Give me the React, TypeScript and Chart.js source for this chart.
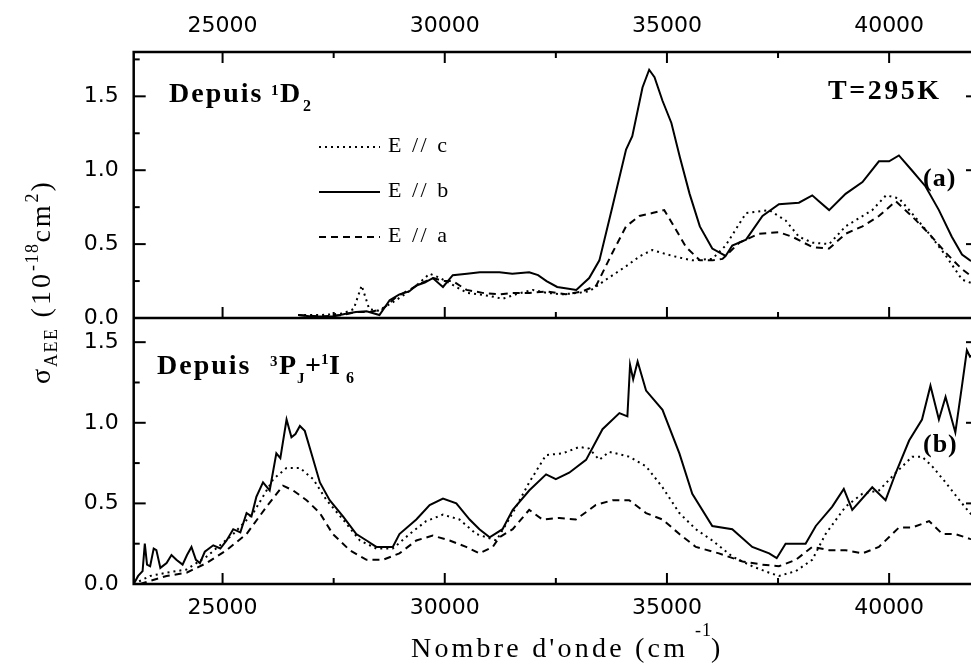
import React, { useEffect, useRef } from 'react';
import { Chart, registerables } from 'chart.js';
Chart.register(...registerables);

// ---- axes ----
const X_MIN = 23000;
const X_MAX = 42000;
const X_TICKS = [25000, 27500, 30000, 32500, 35000, 37500, 40000];
const Y_TOP_MAX = 1.8;
const Y_BOT_MAX = 1.65;
const Y_TOP_TICKS = [0, 0.25, 0.5, 0.75, 1.0, 1.25, 1.5, 1.75];
const Y_BOT_TICKS = [0, 0.25, 0.5, 0.75, 1.0, 1.25, 1.5];

// ---- top panel (Depuis 1D2) ----
const TOP_B_X = [26700, 27000, 27480, 27800, 28000, 28240, 28530, 28760, 28980, 29200, 29360, 29550, 29730, 29960, 30180, 30500, 30790, 31230, 31520, 31900, 32100, 32290, 32530, 32750, 32960, 33250, 33480, 33770, 34080, 34220, 34450, 34600, 34720, 34900, 35100, 35290, 35510, 35740, 36020, 36320, 36470, 36780, 37150, 37520, 37970, 38270, 38420, 38650, 39020, 39400, 39770, 40000, 40220, 40510, 40820, 41120, 41410, 41640, 41820, 42000];
const TOP_B_Y = [0.02, 0.01, 0.01, 0.03, 0.04, 0.045, 0.02, 0.12, 0.16, 0.18, 0.22, 0.24, 0.27, 0.21, 0.29, 0.30, 0.31, 0.31, 0.30, 0.31, 0.29, 0.25, 0.21, 0.2, 0.19, 0.27, 0.39, 0.75, 1.14, 1.23, 1.56, 1.68, 1.63, 1.47, 1.32, 1.09, 0.84, 0.62, 0.47, 0.42, 0.49, 0.53, 0.69, 0.77, 0.78, 0.83, 0.79, 0.73, 0.84, 0.92, 1.06, 1.06, 1.10, 1.00, 0.89, 0.73, 0.55, 0.43, 0.39, 0.37];

const TOP_A_X = [26700, 27200, 27700, 28000, 28300, 28600, 28900, 29200, 29500, 29750, 29960, 30180, 30490, 30850, 31230, 31520, 31900, 32290, 32720, 33100, 33410, 33770, 34080, 34380, 34670, 34940, 35120, 35430, 35740, 36020, 36250, 36630, 37070, 37520, 37820, 38270, 38650, 39020, 39400, 39770, 40150, 40510, 40900, 41280, 41640, 41820, 42000];
const TOP_A_Y = [0.02, 0.01, 0.02, 0.04, 0.04, 0.06, 0.14, 0.19, 0.24, 0.27, 0.25, 0.25, 0.19, 0.17, 0.16, 0.17, 0.17, 0.18, 0.16, 0.18, 0.22, 0.44, 0.62, 0.69, 0.71, 0.73, 0.64, 0.48, 0.39, 0.39, 0.40, 0.51, 0.57, 0.58, 0.55, 0.48, 0.47, 0.57, 0.62, 0.69, 0.79, 0.69, 0.57, 0.44, 0.33, 0.29, 0.25];

const TOP_C_X = [26700, 27200, 27700, 27950, 28130, 28300, 28500, 28800, 29100, 29400, 29660, 29900, 30200, 30500, 31000, 31300, 31600, 31980, 32300, 32650, 33000, 33250, 33630, 34080, 34400, 34670, 35120, 35570, 36020, 36320, 36780, 37300, 37670, 37970, 38270, 38650, 39020, 39620, 39930, 40220, 40510, 40900, 41280, 41640, 41820, 42000];
const TOP_C_Y = [0.02, 0.02, 0.03, 0.06, 0.22, 0.06, 0.05, 0.10, 0.16, 0.23, 0.30, 0.27, 0.22, 0.17, 0.15, 0.13, 0.16, 0.19, 0.17, 0.16, 0.17, 0.18, 0.26, 0.35, 0.42, 0.46, 0.42, 0.39, 0.40, 0.49, 0.71, 0.73, 0.66, 0.55, 0.51, 0.50, 0.62, 0.73, 0.83, 0.81, 0.71, 0.57, 0.42, 0.26, 0.24, 0.22];

// ---- bottom panel (Depuis 3PJ+1I6) ----
const BOT_B_X = [23000, 23100, 23200, 23250, 23300, 23370, 23450, 23510, 23600, 23740, 23850, 23960, 24100, 24200, 24300, 24400, 24490, 24600, 24790, 24950, 25090, 25240, 25400, 25540, 25650, 25760, 25910, 26060, 26210, 26300, 26440, 26550, 26640, 26740, 26850, 27000, 27190, 27410, 27710, 28010, 28240, 28460, 28830, 28980, 29360, 29660, 29960, 30260, 30560, 30780, 31010, 31300, 31530, 31900, 32280, 32500, 32800, 33180, 33550, 33930, 34110, 34170, 34240, 34340, 34530, 34900, 35280, 35570, 36020, 36470, 36920, 37300, 37470, 37670, 38120, 38350, 38720, 38980, 39170, 39620, 39920, 40150, 40450, 40740, 40930, 41120, 41270, 41490, 41640, 41750, 41820, 42000];
const BOT_B_Y = [0.0, 0.05, 0.08, 0.25, 0.12, 0.11, 0.22, 0.21, 0.10, 0.13, 0.18, 0.15, 0.12, 0.18, 0.23, 0.15, 0.13, 0.20, 0.24, 0.22, 0.27, 0.34, 0.32, 0.44, 0.42, 0.54, 0.63, 0.58, 0.81, 0.78, 1.02, 0.91, 0.93, 0.98, 0.95, 0.81, 0.63, 0.52, 0.42, 0.31, 0.27, 0.23, 0.23, 0.31, 0.40, 0.49, 0.53, 0.50, 0.40, 0.34, 0.29, 0.34, 0.46, 0.58, 0.68, 0.65, 0.69, 0.77, 0.96, 1.06, 1.04, 1.36, 1.27, 1.38, 1.20, 1.08, 0.81, 0.56, 0.36, 0.34, 0.23, 0.19, 0.16, 0.25, 0.25, 0.36, 0.48, 0.59, 0.46, 0.60, 0.52, 0.69, 0.89, 1.02, 1.23, 1.02, 1.16, 0.94, 1.23, 1.45, 1.41, 1.45];

const BOT_C_X = [23000, 23370, 23740, 24190, 24640, 25240, 25690, 26140, 26440, 26740, 27040, 27340, 27710, 28090, 28460, 28830, 29210, 29580, 29960, 30330, 30710, 31160, 31530, 31900, 32280, 32650, 33030, 33250, 33480, 33700, 34150, 34530, 34900, 35280, 35650, 36020, 36470, 36920, 37300, 37520, 37900, 38270, 38570, 39020, 39400, 39770, 40150, 40520, 40740, 40970, 41270, 41640, 41820, 42000];
const BOT_C_Y = [0.0, 0.05, 0.07, 0.09, 0.17, 0.31, 0.44, 0.65, 0.72, 0.72, 0.65, 0.52, 0.40, 0.27, 0.22, 0.22, 0.31, 0.39, 0.43, 0.40, 0.31, 0.27, 0.44, 0.63, 0.80, 0.81, 0.85, 0.84, 0.77, 0.82, 0.79, 0.73, 0.60, 0.44, 0.34, 0.27, 0.17, 0.11, 0.07, 0.05, 0.08, 0.15, 0.31, 0.48, 0.56, 0.58, 0.69, 0.79, 0.79, 0.73, 0.63, 0.50, 0.44, 0.40];

const BOT_A_X = [23140, 23740, 24190, 24640, 25090, 25540, 25990, 26360, 26590, 26890, 27190, 27480, 27860, 28240, 28610, 28980, 29360, 29730, 30110, 30480, 30780, 31080, 31230, 31530, 31900, 32200, 32580, 32950, 33400, 33780, 34150, 34530, 34900, 35280, 35650, 36170, 36700, 37150, 37520, 37900, 38270, 38650, 39020, 39400, 39770, 40220, 40520, 40900, 41200, 41490, 41820, 42000];
const BOT_A_Y = [0.0, 0.05, 0.07, 0.13, 0.21, 0.31, 0.48, 0.61, 0.58, 0.52, 0.44, 0.31, 0.21, 0.15, 0.15, 0.19, 0.27, 0.30, 0.27, 0.23, 0.19, 0.23, 0.29, 0.34, 0.46, 0.40, 0.41, 0.40, 0.49, 0.52, 0.52, 0.44, 0.40, 0.31, 0.23, 0.19, 0.14, 0.12, 0.11, 0.15, 0.23, 0.21, 0.21, 0.19, 0.23, 0.35, 0.35, 0.39, 0.31, 0.31, 0.28, 0.27];

const LEGEND = ['E // c', 'E // b', 'E // a'];
const X_TITLE = "Nombre d'onde (cm";
const TICK_FONT = { family: 'DejaVu Sans', size: 22 };
const SERIF = 'Liberation Serif';

const pts = (xs: number[], ys: number[]) => xs.map((x, i) => ({ x, y: ys[i] }));
const isHalf = (v: number) => Math.abs(v * 2 - Math.round(v * 2)) < 1e-6;

const DOT = [2, 4];
const DASH = [7, 5];

type Part = { t: string; x?: number; y: number; size: number; bold?: boolean; ls?: number };

function drawParts(ctx: CanvasRenderingContext2D, parts: Part[], startX: number) {
  let cx = startX;
  for (const p of parts) {
    ctx.font = `${p.bold ? 'bold ' : ''}${p.size}px "${SERIF}"`;
    (ctx as any).letterSpacing = `${p.ls ?? 0}px`;
    const x = p.x ?? cx;
    ctx.fillText(p.t, x, p.y);
    cx = x + ctx.measureText(p.t).width;
  }
  (ctx as any).letterSpacing = '0px';
}

const framePlugin = {
  id: 'frameAndText',
  afterDraw(chart: any) {
    const { ctx, chartArea: ca, scales } = chart;
    const xs = scales.x;
    const yT = scales.yTop;
    const yB = scales.yBot;
    ctx.save();
    ctx.strokeStyle = '#000';
    ctx.fillStyle = '#000';
    ctx.setLineDash([]);
    const line = (x1: number, y1: number, x2: number, y2: number) => {
      ctx.beginPath();
      ctx.moveTo(x1, y1);
      ctx.lineTo(x2, y2);
      ctx.stroke();
    };
    ctx.lineWidth = 2;
    for (const t of xs.ticks) {
      const px = xs.getPixelForValue(t.value);
      const len = t.value % 5000 === 0 ? 11 : 6;
      line(px, yT.top, px, yT.top + len);
      line(px, yT.bottom, px, yT.bottom - len);
      line(px, yB.bottom, px, yB.bottom - len);
    }
    for (const s of [yT, yB]) {
      for (const t of s.ticks) {
        const py = s.getPixelForValue(t.value);
        const len = isHalf(t.value) ? 12 : 6;
        line(ca.left, py, ca.left + len, py);
        line(ca.right, py, ca.right - len, py);
      }
    }
    ctx.lineWidth = 2.5;
    ctx.strokeRect(ca.left, ca.top, ca.right - ca.left, ca.bottom - ca.top);
    line(ca.left, yT.bottom, ca.right, yT.bottom);

    // legend
    const rows = [
      { dash: DOT, label: LEGEND[0], y: 147 },
      { dash: [] as number[], label: LEGEND[1], y: 192 },
      { dash: DASH, label: LEGEND[2], y: 237 },
    ];
    ctx.lineWidth = 2;
    for (const r of rows) {
      ctx.setLineDash(r.dash);
      line(319, r.y, 380, r.y);
      ctx.setLineDash([]);
      drawParts(ctx, [{ t: r.label, y: r.y + 5, size: 22, ls: 2.5 }], 388);
    }

    ctx.textBaseline = 'alphabetic';
    ctx.textAlign = 'left';
    // top panel annotation
    drawParts(ctx, [
      { t: 'Depuis', x: 169, y: 102, size: 28, bold: true, ls: 2 },
      { t: '1', x: 271, y: 95, size: 15, bold: true },
      { t: 'D', x: 280, y: 102, size: 28, bold: true },
      { t: '2', x: 303, y: 111, size: 16, bold: true },
    ], 169);
    drawParts(ctx, [{ t: 'T=295K', y: 99, size: 28, bold: true, ls: 2.5 }], 828);
    drawParts(ctx, [{ t: '(a)', y: 186, size: 26, bold: true, ls: 1 }], 923);
    drawParts(ctx, [{ t: '(b)', y: 452, size: 26, bold: true, ls: 1 }], 923);
    // bottom panel annotation
    drawParts(ctx, [
      { t: 'Depuis', x: 157, y: 374, size: 28, bold: true, ls: 2 },
      { t: '3', x: 270, y: 366, size: 15, bold: true },
      { t: 'P', x: 279, y: 374, size: 28, bold: true },
      { t: 'J', x: 297, y: 383, size: 15, bold: true },
      { t: '+', x: 305, y: 374, size: 28, bold: true },
      { t: '1', x: 321, y: 364, size: 15, bold: true },
      { t: 'I', x: 329, y: 374, size: 28, bold: true },
      { t: '6', x: 346, y: 383, size: 16, bold: true },
    ], 157);

    // x title
    drawParts(ctx, [
      { t: X_TITLE, y: 657, size: 28, ls: 3.2 },
      { t: '-1', x: 695, y: 636, size: 18, ls: 1 },
      { t: ')', x: 711, y: 657, size: 28 },
    ], 411);

    // y title (rotated)
    ctx.save();
    ctx.translate(50, 384);
    ctx.rotate(-Math.PI / 2);
    drawParts(ctx, [
      { t: '\u03c3', y: 0, size: 28, ls: 2 },
      { t: 'AEE', y: 7, size: 18, ls: 1.5 },
      { t: ' (10', y: 0, size: 28, ls: 3 },
      { t: '-18', y: -12, size: 18, ls: 1.5 },
      { t: 'cm', y: 0, size: 28, ls: 3 },
      { t: '2', y: -12, size: 18, ls: 2 },
      { t: ')', y: 0, size: 28 },
    ], 0);
    ctx.restore();

    ctx.restore();
  },
};

function xAxis(position: 'top' | 'bottom', h: number, pad: number) {
  return {
    type: 'linear',
    position,
    min: X_MIN,
    max: X_MAX,
    afterBuildTicks: (s: any) => { s.ticks = X_TICKS.map((v) => ({ value: v })); },
    afterFit: (s: any) => { s.height = h; },
    ticks: {
      autoSkip: false,
      maxRotation: 0,
      padding: pad,
      color: '#000',
      font: TICK_FONT,
      callback: (v: number) => (v % 5000 === 0 ? String(v) : ''),
    },
    grid: { display: false, drawTicks: false },
    border: { display: false },
  };
}

function yAxis(max: number, tickVals: number[], weight: number) {
  return {
    type: 'linear',
    position: 'left',
    stack: 'panels',
    stackWeight: 1,
    weight,
    min: 0,
    max,
    afterBuildTicks: (s: any) => { s.ticks = tickVals.map((v) => ({ value: v })); },
    afterFit: (s: any) => { s.width = 133.7; },
    ticks: {
      autoSkip: false,
      padding: 15,
      color: '#000',
      font: TICK_FONT,
      callback: (v: number) => (isHalf(v) ? v.toFixed(1) : ''),
    },
    grid: { display: false, drawTicks: false },
    border: { display: false },
  };
}

export default function App() {
  const ref = useRef<HTMLCanvasElement | null>(null);
  useEffect(() => {
    if (!ref.current) return;
    const mk = (data: any, yAxisID: string, dash: number[]) => ({
      data,
      yAxisID,
      xAxisID: 'x',
      borderColor: '#000',
      borderWidth: 2,
      borderDash: dash,
      pointRadius: 0,
      fill: false,
      tension: 0,
    });
    const chart = new Chart(ref.current, {
      type: 'line',
      data: {
        datasets: [
          mk(pts(TOP_C_X, TOP_C_Y), 'yTop', DOT),
          mk(pts(TOP_B_X, TOP_B_Y), 'yTop', []),
          mk(pts(TOP_A_X, TOP_A_Y), 'yTop', DASH),
          mk(pts(BOT_C_X, BOT_C_Y), 'yBot', DOT),
          mk(pts(BOT_B_X, BOT_B_Y), 'yBot', []),
          mk(pts(BOT_A_X, BOT_A_Y), 'yBot', DASH),
        ] as any,
      },
      options: {
        responsive: false,
        animation: false,
        events: [],
        layout: { padding: { left: 0, right: 12, top: 0, bottom: 0 } },
        plugins: { legend: { display: false }, tooltip: { enabled: false } },
        scales: {
          x: xAxis('bottom', 82, 11),
          x2: xAxis('top', 52, 13),
          yTop: yAxis(Y_TOP_MAX, Y_TOP_TICKS, 1),
          yBot: yAxis(Y_BOT_MAX, Y_BOT_TICKS, 0),
        } as any,
      },
      plugins: [framePlugin],
    });
    return () => chart.destroy();
  }, []);
  return (
    <div style={{ position: 'fixed', left: 0, top: 0, width: 971, height: 666, overflow: 'hidden', background: '#fff' }}>
      <canvas ref={ref} width={990} height={666} style={{ display: 'block' }} />
    </div>
  );
}
